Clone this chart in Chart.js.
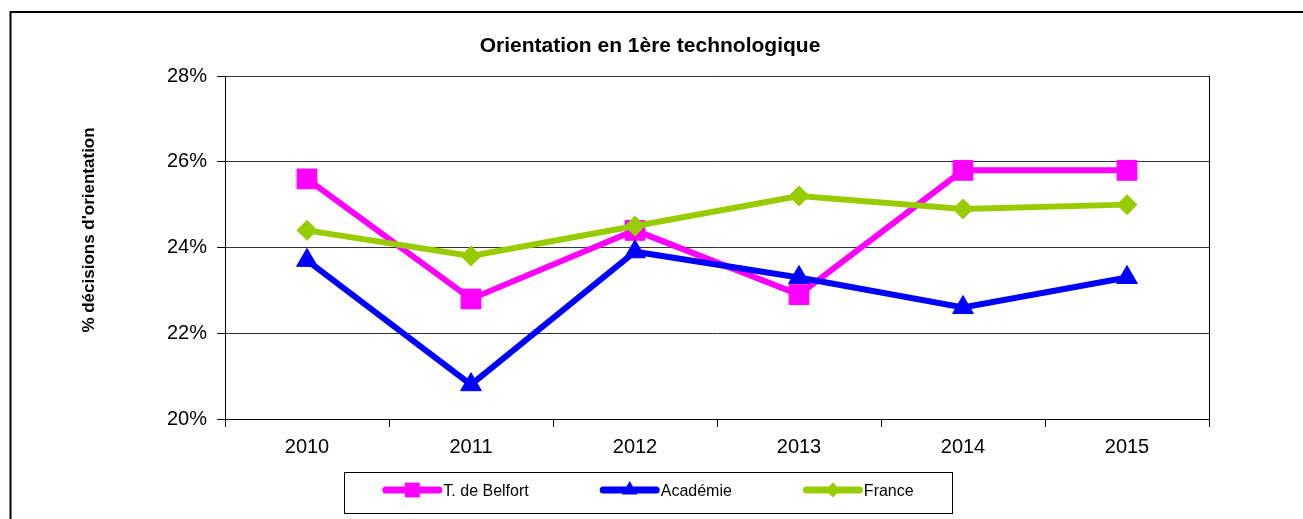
<!DOCTYPE html>
<html>
<head>
<meta charset="utf-8">
<script src="https://cdn.jsdelivr.net/npm/chart.js@4.4.0/dist/chart.umd.min.js"></script>
<style>
    html, body { margin: 0; padding: 0; background: #fff; }
    canvas { display: block; }
</style>
</head>
<body>
<canvas id="chart" width="1303" height="519"></canvas>
<script>
// Orientation en 1ère technologique - Excel style line chart

const years = ['2010', '2011', '2012', '2013', '2014', '2015'];
const belfortValues = [25.6, 22.8, 24.4, 22.9, 25.8, 25.8];
const academieValues = [23.7, 20.8, 23.9, 23.3, 22.6, 23.3];
const franceValues = [24.4, 23.8, 24.5, 25.2, 24.9, 25.0];
const yTicks = [20, 22, 24, 26, 28];

const seriesNames = ['T. de Belfort', 'Académie', 'France'];
const chartTitle = 'Orientation en 1ère technologique';
const yTitle = "% décisions d'orientation";

const colors = {
    pink: '#FF00FF',
    blue: '#0000FF',
    green: '#99CC00'
};

const fontFamily = '"Liberation Sans", Arial, sans-serif';
Chart.defaults.font.family = fontFamily;
Chart.defaults.color = '#000';

// Draw a marker for the legend (same shapes as the series points)
function drawMarker(ctx, style, x, y, r) {
    ctx.beginPath();
    if (style === 'rect') {
        const s = r * Math.SQRT1_2;
        ctx.rect(x - s, y - s, 2 * s, 2 * s);
    } else if (style === 'triangle') {
        ctx.moveTo(x, y - r);
        ctx.lineTo(x + r * Math.sin(2 * Math.PI / 3), y - r * Math.cos(2 * Math.PI / 3));
        ctx.lineTo(x + r * Math.sin(4 * Math.PI / 3), y - r * Math.cos(4 * Math.PI / 3));
        ctx.closePath();
    } else {
        ctx.moveTo(x - r, y);
        ctx.lineTo(x, y - r);
        ctx.lineTo(x + r, y);
        ctx.lineTo(x, y + r);
        ctx.closePath();
    }
    ctx.fill();
}

// Frame, titles, plot border and boxed legend
const excelLook = {
    id: 'excelLook',
    beforeDraw(chart) {
        const ctx = chart.ctx;
        ctx.save();
        ctx.fillStyle = '#fff';
        ctx.fillRect(0, 0, chart.width, chart.height);
        ctx.strokeStyle = '#000';
        ctx.lineWidth = 2;
        ctx.strokeRect(10.5, 12, 2000, 1000);
        ctx.restore();
    },
    afterDraw(chart) {
        const ctx = chart.ctx;
        const area = chart.chartArea;
        ctx.save();

        // right border of the plot area
        ctx.strokeStyle = '#000';
        ctx.lineWidth = 1;
        ctx.beginPath();
        ctx.moveTo(Math.round(area.right) + 0.5, area.top);
        ctx.lineTo(Math.round(area.right) + 0.5, area.bottom);
        ctx.stroke();

        // chart title
        ctx.fillStyle = '#000';
        ctx.font = 'bold 21px ' + fontFamily;
        ctx.textAlign = 'center';
        ctx.textBaseline = 'alphabetic';
        ctx.fillText(chartTitle, 650, 52);

        // y axis title
        ctx.save();
        ctx.translate(89, 230);
        ctx.rotate(-Math.PI / 2);
        ctx.font = 'bold 17px ' + fontFamily;
        ctx.textBaseline = 'middle';
        ctx.fillText(yTitle, 0, 0);
        ctx.restore();

        // legend box
        const box = { left: 344, top: 472, right: 952, bottom: 513 };
        ctx.strokeStyle = '#000';
        ctx.lineWidth = 1;
        ctx.strokeRect(box.left + 0.5, box.top + 0.5, box.right - box.left, box.bottom - box.top);

        ctx.font = '16px ' + fontFamily;
        const sampleLen = 60;
        const gap = 71;
        const items = chart.data.datasets.map(ds => ({
            ds: ds,
            width: sampleLen + 1 + ctx.measureText(ds.label).width
        }));
        const total = items.reduce((sum, it) => sum + it.width, 0) + gap * (items.length - 1);
        let x = (box.left + box.right) / 2 - total / 2;
        const lineY = 490;

        items.forEach(it => {
            const ds = it.ds;
            ctx.strokeStyle = ds.borderColor;
            ctx.fillStyle = ds.borderColor;
            ctx.lineWidth = 7;
            ctx.lineCap = 'round';
            ctx.beginPath();
            ctx.moveTo(x + 3.5, lineY);
            ctx.lineTo(x + sampleLen - 3.5, lineY);
            ctx.stroke();
            drawMarker(ctx, ds.pointStyle, x + sampleLen / 2, lineY, ds.pointRadius * 0.75);

            ctx.fillStyle = '#000';
            ctx.textAlign = 'left';
            ctx.textBaseline = 'middle';
            ctx.fillText(ds.label, x + sampleLen + 1, lineY + 2);
            x += it.width + gap;
        });

        ctx.restore();
    }
};

function makeDataset(label, values, color, style, radius, order) {
    return {
        label: label,
        data: values,
        borderColor: color,
        backgroundColor: color,
        borderWidth: 6,
        pointStyle: style,
        pointRadius: radius,
        pointHoverRadius: radius,
        pointBorderWidth: 1,
        pointBackgroundColor: color,
        pointBorderColor: color,
        tension: 0,
        fill: false,
        clip: false,
        order: order
    };
}

const ctx = document.getElementById('chart').getContext('2d');

new Chart(ctx, {
    type: 'line',
    data: {
        labels: years,
        datasets: [
            makeDataset(seriesNames[0], belfortValues, colors.pink, 'rect', 14, 2),
            makeDataset(seriesNames[1], academieValues, colors.blue, 'triangle', 12, 1),
            makeDataset(seriesNames[2], franceValues, colors.green, 'rectRot', 10, 0)
        ]
    },
    options: {
        responsive: false,
        animation: false,
        layout: {
            padding: { top: 76, right: 94, bottom: 0, left: 0 }
        },
        scales: {
            x: {
                offset: true,
                grid: {
                    display: true,
                    offset: true,
                    drawOnChartArea: false,
                    drawTicks: true,
                    tickLength: 8,
                    color: '#000'
                },
                border: { display: true, color: '#000', width: 1 },
                ticks: {
                    font: { size: 20 },
                    color: '#000',
                    padding: 8,
                    maxRotation: 0,
                    autoSkip: false
                },
                afterFit: scale => { scale.height = 100; }
            },
            y: {
                min: yTicks[0],
                max: yTicks[yTicks.length - 1],
                afterBuildTicks: scale => {
                    scale.ticks = yTicks.map(v => ({ value: v }));
                },
                ticks: {
                    font: { size: 20 },
                    color: '#000',
                    padding: 10,
                    callback: value => value + '%'
                },
                grid: {
                    color: '#333',
                    tickLength: 8,
                    tickColor: '#000'
                },
                border: { display: true, color: '#000', width: 1 },
                afterFit: scale => { scale.width = 225; }
            }
        },
        plugins: {
            legend: { display: false },
            title: { display: false },
            tooltip: { enabled: false }
        }
    },
    plugins: [excelLook]
});
</script>
</body>
</html>
